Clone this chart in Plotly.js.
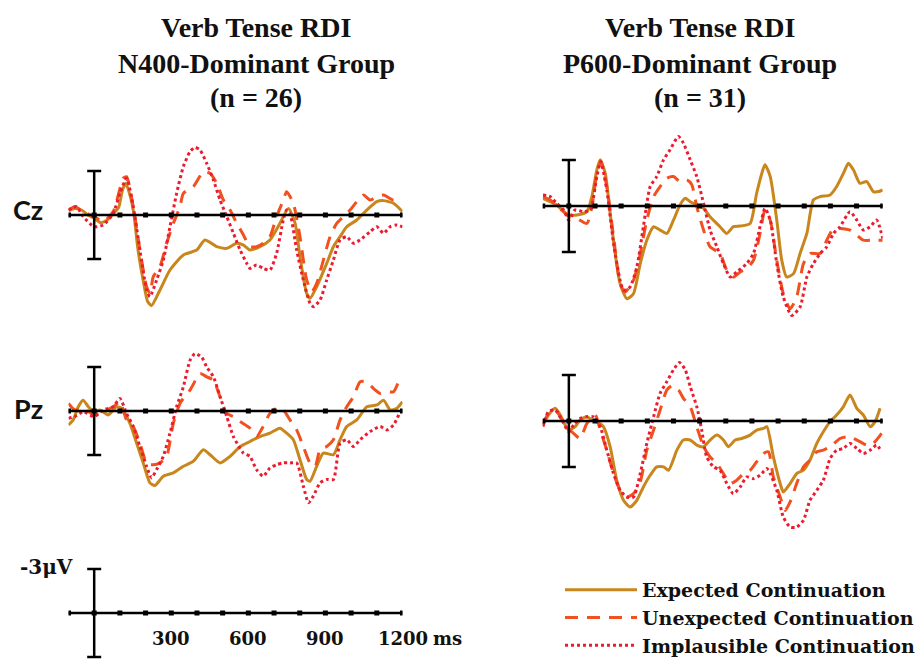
<!DOCTYPE html>
<html>
<head>
<meta charset="utf-8">
<script src="https://cdn.plot.ly/plotly-3.0.1.min.js"></script>
<style>html,body{margin:0;padding:0;background:#fff;overflow:hidden;}#chart{width:918px;height:661px;}</style>
</head>
<body>
<div id="chart"></div>
<script>
// ---------------- DATA (time in ms, amplitude in µV; negative plotted up) ----------------
const seriesNames = ['Expected Continuation', 'Unexpected Continuation', 'Implausible Continuation'];
const groupTitleLines = [
  ['Verb Tense RDI', 'N400-Dominant Group', '(n = 26)'],
  ['Verb Tense RDI', 'P600-Dominant Group', '(n = 31)']
];
const channelLabels = ['Cz', 'Pz'];
const tickTimes = [-100, 0, 100, 200, 300, 400, 500, 600, 700, 800, 900, 1000, 1100, 1200];
const scaleLabelTimes = [300, 600, 900, 1200];
const scaleLabelText = ['300', '600', '900', '1200'];
const scaleBarUV = 3;

// Cz, N400-dominant group
const czN400_t_exp = [-100,-75,-49,-25,0,25,51,75,95,110,123,140,155,170,191,208,223,256,295,347,399,431,477,516,555,581,606,645,684,723,756,782,801,827,840,866,905,931,957,983,1022,1061,1100,1126,1165,1200];
const czN400_exp   = [-0.30,-0.45,-0.34,0,0.23,0.52,0.34,-0.11,-0.5,-1.7,-2.16,-1.3,0,2.3,4.5,5.9,6.18,5.11,3.75,2.73,2.39,1.70,2.16,2.27,1.93,2.05,2.39,2.16,1.70,0.57,-0.45,0.57,2.84,5.34,5.68,4.89,3.30,2.16,1.48,0.80,0.34,-0.34,-0.91,-0.98,-0.80,-0.23];
const czN400_t_une = [-100,-75,-43,0,35,74,113,126,152,178,204,217,230,256,282,308,334,347,386,425,451,477,503,529,555,581,606,632,658,684,710,736,749,775,801,827,847,866,892,918,944,970,996,1022,1048,1074,1100,1126,1165,1191];
const czN400_une   = [-0.34,-0.57,-0.23,0.11,0.45,-0.23,-2.5,-2.61,-0.57,2.39,4.89,5.34,4.20,3.52,1.93,0.57,-0.57,-1.48,-1.93,-2.95,-2.84,-2.16,-1.02,-0.34,0.57,1.36,2.16,2.16,1.93,1.48,0.11,-1.02,-1.59,-0.80,1.48,4.43,5.23,4.66,3.07,1.48,0.57,0.11,-0.34,-0.91,-1.36,-1.02,-1.25,-1.36,-1.02,-1.25];
const czN400_t_imp = [-100,-69,-43,0,35,74,100,126,152,178,204,217,243,269,295,321,347,373,392,412,438,464,490,516,542,568,594,606,632,658,684,710,736,749,762,788,814,840,853,879,905,931,957,983,1009,1035,1074,1100,1126,1152,1178,1200];
const czN400_imp   = [-0.34,-0.57,0.11,0.80,0.68,-0.11,-1.48,-2.5,-0.57,2.39,5.11,5.57,4.43,3.07,0.80,-1.48,-3.30,-4.32,-4.61,-4.43,-3.52,-2.39,-1.02,0.11,1.25,2.39,3.30,3.64,3.41,3.64,3.75,2.61,0.34,-0.34,-0.11,2.39,4.43,6.02,6.25,5.80,4.43,3.07,1.70,1.48,1.93,1.70,1.14,0.80,1.25,0.80,0.68,0.80];

// Cz, P600-dominant group
const czP600_t_exp = [-99,-71,-46,-20,0,31,69,88,107,120,139,158,177,196,222,247,273,298,324,349,375,400,425,445,464,489,515,540,578,604,629,655,693,718,738,750,770,795,814,833,859,884,910,935,961,999,1024,1050,1069,1088,1113,1139,1164,1184,1200];
const czP600_exp   = [-0.50,-0.28,-0.07,0.37,0.59,0.59,0.37,-0.61,-2.36,-3.01,-2.14,0.48,3.10,5.07,6.05,5.72,3.76,2.23,1.35,1.57,1.79,0.92,-0.07,-0.50,-0.28,-0.07,0.15,0.70,1.35,1.79,1.35,1.31,1.14,-0.83,-2.14,-2.69,-1.92,0.92,3.54,4.63,4.41,3.10,1.79,-0.39,-0.61,-0.72,-1.27,-2.14,-2.79,-2.36,-1.48,-1.59,-0.94,-0.94,-1.05];
const czP600_t_une = [-99,-71,-46,-20,0,31,69,88,107,122,145,171,196,215,247,273,298,324,349,375,400,425,451,470,489,515,540,578,604,629,655,680,706,731,750,770,795,820,846,871,897,922,961,986,1012,1037,1075,1101,1126,1164,1200];
const czP600_une   = [-0.61,-0.39,0.04,0.37,0.70,0.81,1.14,0.04,-2.14,-2.90,-1.27,2.01,5.07,5.61,4.85,3.10,0.92,-0.61,-1.27,-1.81,-1.92,-1.59,-1.70,-1.38,0.04,1.57,2.66,3.10,4.19,4.63,4.30,4.08,3.54,1.79,0.26,0.92,3.54,5.72,6.70,5.94,3.76,3.10,3.10,2.23,1.46,1.46,1.57,1.90,2.23,2.23,2.23];
const czP600_t_imp = [-99,-71,-46,-20,0,24,56,82,107,122,145,171,196,209,234,260,285,311,336,362,387,419,438,464,489,515,540,566,591,617,642,680,706,731,750,770,795,820,852,884,910,935,961,986,1012,1037,1075,1101,1126,1152,1177,1200];
const czP600_imp   = [-0.72,-0.61,-0.17,0.26,0.92,0.26,0.37,0.26,-1.92,-2.90,-1.05,2.45,4.85,5.50,5.28,3.97,1.35,-1.27,-1.92,-3.01,-3.67,-4.54,-4.10,-3.01,-1.92,-0.17,1.57,2.66,3.76,4.63,4.30,3.76,3.10,1.35,0.15,0.92,3.76,5.94,7.14,6.59,4.63,3.76,3.10,2.66,1.79,1.35,0.37,0.92,1.57,1.35,0.92,2.12];

// Pz, N400-dominant group
const pzN400_t_exp = [-100,-82,-62,-43,-23,0,22,55,87,107,139,165,191,217,236,269,308,347,386,425,451,490,529,568,606,645,684,723,749,775,801,827,840,866,892,931,957,983,1022,1061,1100,1126,1152,1178,1200];
const pzN400_exp   = [0.95,0.61,-0.29,-0.74,-0.29,0.05,-0.07,0.27,-0.29,-0.18,0.84,2.19,3.54,4.90,5.08,4.45,4.22,3.77,3.43,2.64,2.98,3.54,3.09,2.42,2.08,1.74,1.51,1.17,1.51,1.96,3.32,4.67,4.79,3.77,2.87,2.98,1.96,1.06,0.61,-0.29,-0.41,-0.74,-0.07,-0.18,-0.63];
const pzN400_t_une = [-100,-75,-43,0,35,74,100,126,152,178,204,230,256,282,308,334,347,373,412,438,464,490,516,542,568,606,632,658,684,710,736,762,788,814,840,860,879,905,931,957,983,1009,1035,1061,1087,1113,1139,1165,1191];
const pzN400_une   = [-0.52,-0.07,-0.18,0.27,0.05,-0.29,-0.63,0.61,1.06,2.19,3.54,3.66,3.54,3.09,0.84,-0.52,-0.86,-1.42,-2.55,-2.33,-2.10,-0.97,0.16,0.38,0.72,1.17,1.74,1.06,0.16,-0.18,-0.07,0.61,1.29,2.42,3.54,3.77,2.64,2.42,1.96,0.61,-0.29,-0.97,-1.99,-1.99,-1.53,-1.20,-1.31,-1.31,-2.33];
const pzN400_t_imp = [-100,-75,-43,0,35,74,100,126,152,178,204,223,243,269,295,321,347,373,392,418,438,464,490,516,542,581,606,632,658,684,710,736,762,788,814,834,853,879,905,931,957,983,1009,1035,1074,1113,1139,1165,1191];
const pzN400_imp   = [0.50,0.38,0.05,0.38,-0.07,-0.29,-0.86,0.16,1.06,2.42,3.77,4.56,3.99,3.09,1.51,-0.29,-1.65,-3.45,-3.91,-3.68,-3.00,-2.33,-0.97,0.38,1.74,2.87,3.09,4.00,4.45,3.88,3.66,3.54,3.54,3.54,5.12,6.25,5.80,4.90,4.67,4.67,2.19,1.96,2.42,1.96,1.40,1.06,1.29,0.95,0.05];

// Pz, P600-dominant group
const pzP600_t_exp = [-99,-78,-52,-33,-14,0,24,43,69,88,107,132,158,183,209,234,260,285,311,336,362,381,413,438,464,489,515,540,566,591,610,636,661,693,718,744,757,782,808,820,846,871,897,922,948,973,999,1024,1050,1075,1101,1126,1152,1171,1190];
const pzP600_exp   = [0.26,-0.39,-0.83,-0.39,0.26,0.59,0.37,-0.07,-0.28,-0.07,0.04,0.37,1.68,3.86,5.17,5.61,5.17,4.30,3.54,2.99,2.99,3.21,1.90,1.24,1.24,1.57,1.68,1.24,0.92,1.24,1.68,1.24,1.14,0.92,0.59,0.48,0.37,2.34,4.08,4.63,4.08,3.43,3.21,2.55,1.46,0.70,0.04,-0.39,-0.94,-1.70,-0.83,-0.39,0.37,0.04,-0.83];
const pzP600_t_une = [-99,-78,-52,-33,-8,18,43,69,101,120,145,171,196,222,247,273,298,324,349,375,394,419,438,464,489,515,540,566,591,617,642,668,693,718,744,763,782,808,827,846,871,897,922,948,973,999,1037,1062,1088,1113,1139,1164,1196];
const pzP600_une   = [0.26,-0.50,-0.72,-0.28,0.37,0.81,1.14,0.15,-0.39,0.59,1.90,3.43,4.52,4.96,4.74,3.97,1.90,0.59,-0.72,-2.03,-2.29,-2.03,-1.48,-0.94,0.37,1.68,2.34,2.77,3.43,4.08,3.86,3.43,3.21,2.66,2.12,2.01,3.65,4.96,5.83,5.28,4.08,2.99,2.55,2.01,1.90,1.68,1.14,1.03,1.14,1.35,1.57,1.46,0.81];
const pzP600_t_imp = [-99,-78,-52,-27,0,18,43,69,94,120,145,171,196,222,247,273,298,324,349,375,400,423,445,464,489,508,527,553,578,604,629,655,680,706,731,757,770,795,820,846,871,897,922,948,973,999,1024,1050,1075,1101,1126,1152,1177,1196];
const pzP600_imp   = [0.37,-0.61,-0.72,-0.07,0.70,0.26,-0.17,-0.28,-0.28,0.37,1.90,3.43,4.52,4.96,4.96,3.43,1.46,-0.28,-1.81,-2.58,-3.34,-3.82,-3.34,-2.25,-0.94,0.59,2.34,2.99,3.21,4.08,4.74,4.30,3.65,3.76,3.54,3.10,3.43,4.52,6.27,6.92,6.92,6.48,5.17,4.52,3.86,2.45,1.90,1.79,1.46,1.79,2.12,1.90,1.57,2.01];

// ---------------- STYLE ----------------
const W = 918, H = 661;
const colors = ['#C8861C', '#F2501E', '#EC1C30'];
const dashes = ['solid', '13px,9px', 'dot'];
const widths = [3, 3, 3];
const serifTitle = '"Liberation Serif", "Times New Roman", serif';
const serif = '"DejaVu Serif", "Liberation Serif", serif';

// panel geometry in pixels: [left, right] for -100..1200 ms, zero-line y, pixels per µV, range
const panels = [
  {ax: '',  x: [68.5, 402.5], zero: 215, ppu: 44/3,  r: [7, -5],   data: [[czN400_t_exp, czN400_exp],[czN400_t_une, czN400_une],[czN400_t_imp, czN400_imp]]},
  {ax: '2', x: [542.7, 882.7], zero: 206, ppu: 46/3, r: [7.5, -5], data: [[czP600_t_exp, czP600_exp],[czP600_t_une, czP600_une],[czP600_t_imp, czP600_imp]]},
  {ax: '3', x: [68.5, 402.5], zero: 411, ppu: 44/3,  r: [7, -5],   data: [[pzN400_t_exp, pzN400_exp],[pzN400_t_une, pzN400_une],[pzN400_t_imp, pzN400_imp]]},
  {ax: '4', x: [542.7, 882.7], zero: 421, ppu: 46/3, r: [7.5, -5], data: [[pzP600_t_exp, pzP600_exp],[pzP600_t_une, pzP600_une],[pzP600_t_imp, pzP600_imp]]},
  {ax: '5', x: [68.5, 402.5], zero: 613, ppu: 44/3,  r: [3.2, -4], data: []}
];

const traces = [];
const layout = {
  width: W, height: H,
  margin: {l: 0, r: 0, t: 0, b: 0, autoexpand: false},
  paper_bgcolor: '#fff', plot_bgcolor: 'rgba(0,0,0,0)',
  showlegend: true,
  legend: {
    x: 560 / W, y: 1 - 571 / H, xanchor: 'left', yanchor: 'top',
    font: {family: serif, size: 19, color: '#111'},
    itemwidth: 72, bgcolor: 'rgba(0,0,0,0)', tracegroupgap: 0
  },
  annotations: [],
  font: {family: serif}
};

panels.forEach((p, pi) => {
  const xa = 'xaxis' + p.ax, ya = 'yaxis' + p.ax;
  const top = p.zero + p.r[1] * p.ppu, bottom = p.zero + p.r[0] * p.ppu;
  layout[xa] = {domain: [p.x[0] / W, p.x[1] / W], range: [tickTimes[0], tickTimes[tickTimes.length - 1]], visible: false, fixedrange: true};
  layout[ya] = {domain: [Math.max(0, 1 - bottom / H), 1 - top / H], range: p.r, visible: false, fixedrange: true};
  const xr = 'x' + p.ax, yr = 'y' + p.ax;
  p.data.forEach((d, si) => {
    traces.push({
      type: 'scatter', mode: 'lines', x: d[0], y: d[1], xaxis: xr, yaxis: yr,
      name: '<b>' + seriesNames[si] + '</b>', legendgroup: 's' + si, showlegend: pi === 0,
      line: {color: colors[si], width: widths[si], dash: dashes[si], shape: 'spline', smoothing: 0.6},
      hoverinfo: 'skip'
    });
  });
  // baseline
  traces.push({type: 'scatter', mode: 'lines', x: [tickTimes[0], tickTimes[tickTimes.length - 1]], y: [0, 0],
    xaxis: xr, yaxis: yr, showlegend: false, hoverinfo: 'skip', line: {color: '#000', width: 2.5}});
  // tick dots
  traces.push({type: 'scatter', mode: 'markers', x: tickTimes, y: tickTimes.map(() => 0),
    xaxis: xr, yaxis: yr, showlegend: false, hoverinfo: 'skip', marker: {symbol: 'square', size: 5, color: '#000'}});
  // scale bar at 0 ms
  traces.push({type: 'scatter', mode: 'markers', x: [0], y: [0], xaxis: xr, yaxis: yr, showlegend: false, hoverinfo: 'skip',
    marker: {size: 1, color: 'rgba(0,0,0,0)'},
    error_y: {type: 'data', array: [scaleBarUV], symmetric: true, width: 7, thickness: 2.5, color: '#000'}});
});

// titles (one annotation per line)
const titleCenters = [256, 700];
const titleLineY = [28, 63, 97];
groupTitleLines.forEach((lines, i) => {
  lines.forEach((line, li) => {
    layout.annotations.push({xref: 'paper', yref: 'paper', x: titleCenters[i] / W, y: 1 - titleLineY[li] / H,
      xanchor: 'center', yanchor: 'middle', showarrow: false,
      text: '<b>' + line + '</b>', font: {family: serifTitle, size: 28, color: '#111'}});
  });
});
// channel labels
const chanY = [209, 408];
channelLabels.forEach((c, i) => {
  layout.annotations.push({xref: 'paper', yref: 'paper', x: 28 / W, y: 1 - chanY[i] / H,
    xanchor: 'center', yanchor: 'middle', showarrow: false,
    text: '<b>' + c + '</b>', font: {family: 'Lato, "Open Sans", sans-serif', size: 27, color: '#111'}});
});
// scale panel labels
scaleLabelTimes.forEach((t, i) => {
  layout.annotations.push({xref: 'x5', yref: 'y5', x: t, y: 0, yshift: -25, xanchor: 'center', yanchor: 'middle',
    showarrow: false, text: '<b>' + scaleLabelText[i] + '</b>', font: {family: serif, size: 18, color: '#111'}});
});
layout.annotations.push({xref: 'x5', yref: 'y5', x: scaleLabelTimes[scaleLabelTimes.length - 1], y: 0, yshift: -25, xshift: 28,
  xanchor: 'left', yanchor: 'middle', showarrow: false, text: '<b>ms</b>', font: {family: serif, size: 18, color: '#111'}});
layout.annotations.push({xref: 'x5', yref: 'y5', x: 0, y: -scaleBarUV, xshift: -19, yshift: 2, xanchor: 'right', yanchor: 'middle',
  showarrow: false, text: '<b>-' + scaleBarUV + 'μV</b>', font: {family: serif, size: 20, color: '#111'}});

Plotly.newPlot('chart', traces, layout, {staticPlot: true, displayModeBar: false});
</script>
</body>
</html>
